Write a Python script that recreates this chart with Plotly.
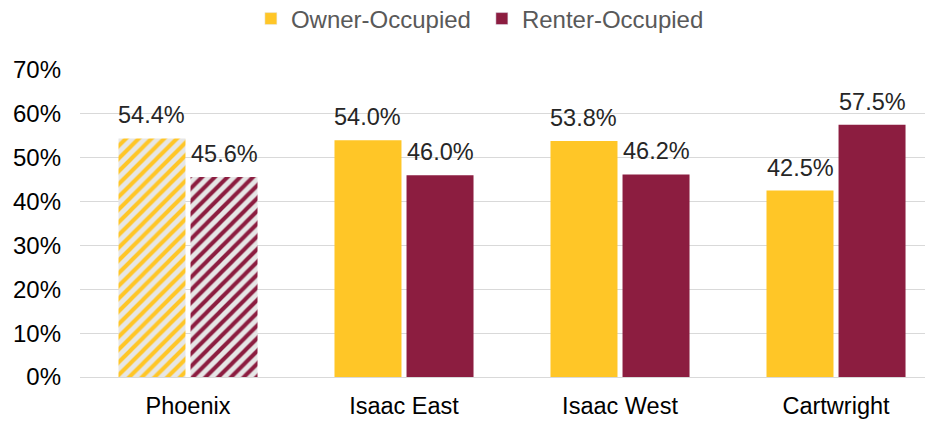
import plotly.graph_objects as go

categories = ["Phoenix", "Isaac East", "Isaac West", "Cartwright"]
owner = [0.544, 0.540, 0.538, 0.425]
renter = [0.456, 0.460, 0.462, 0.575]
series_names = ["Owner-Occupied", "Renter-Occupied"]
tick_vals = [0, 0.1, 0.2, 0.3, 0.4, 0.5, 0.6, 0.7]
tick_text = ["0%", "10%", "20%", "30%", "40%", "50%", "60%", "70%"]

GOLD = "#FFC627"
MAROON = "#8C1D40"
PAT_BG = "#E6E6E6"
FONT = "Liberation Sans, Arial"
BARGAP = 0.333
BARGROUPGAP = 0.07

fig = go.Figure()

def add_series(name, vals, color, group, side):
    shapes = ["/"] + [""] * (len(vals) - 1)
    fig.add_trace(go.Bar(
        x=categories, y=vals, name=name, offsetgroup=group, showlegend=False,
        marker=dict(
            color=color,
            line=dict(width=0),
            pattern=dict(shape=shapes, fgcolor=color,
                         bgcolor=[PAT_BG] + [color] * (len(vals) - 1),
                         size=9, solidity=0.45, fillmode="replace"),
        ),
        hoverinfo="skip",
    ))
    # legend entry
    fig.add_trace(go.Bar(
        x=[categories[0]], y=[None], name=name, offsetgroup=group,
        marker=dict(color=color), showlegend=True, hoverinfo="skip",
    ))
    # data labels above each bar (positioned at the bar's centre in axis units)
    slot = (1 - BARGAP) / 2
    for i, v in enumerate(vals):
        fig.add_annotation(
            x=i + side * slot / 2, y=v, xref="x", yref="y",
            text=f"{v*100:.1f}%", showarrow=False,
            xanchor="center", yanchor="bottom", yshift=8,
            font=dict(family=FONT, size=23.5, color="#262626"),
        )

add_series(series_names[0], owner, GOLD, "a", -1)
add_series(series_names[1], renter, MAROON, "b", +1)

# page body adds an 8px margin, so the figure is 8px smaller than the window
fig.update_layout(
    width=925, height=413,
    margin=dict(l=72, r=0, t=62, b=44, autoexpand=False),
    paper_bgcolor="white", plot_bgcolor="white",
    barmode="group", bargap=BARGAP, bargroupgap=BARGROUPGAP,
    font=dict(family=FONT, size=24, color="#000000"),
    legend=dict(orientation="h", x=0.5123, xref="container", xanchor="center",
                y=0.9734, yref="container", yanchor="middle",
                font=dict(size=24, color="#595959"),
                itemwidth=30, entrywidth=186, entrywidthmode="pixels",
                traceorder="normal"),
    showlegend=True,
)
fig.update_xaxes(
    range=[-0.5, 3.449], showgrid=False, showline=True, linecolor="#D9D9D9",
    linewidth=1, ticks="", ticklabelstandoff=8, automargin=False,
    tickfont=dict(size=23.5, color="#000000"),
)
fig.update_yaxes(
    range=[0, 0.7], tickvals=tick_vals, ticktext=tick_text,
    showgrid=True, gridcolor="#D9D9D9", gridwidth=1, zeroline=False,
    showline=False, ticks="", ticklabelstandoff=18, automargin=False,
    tickfont=dict(size=24, color="#000000"),
)

fig.write_html("out.html")
